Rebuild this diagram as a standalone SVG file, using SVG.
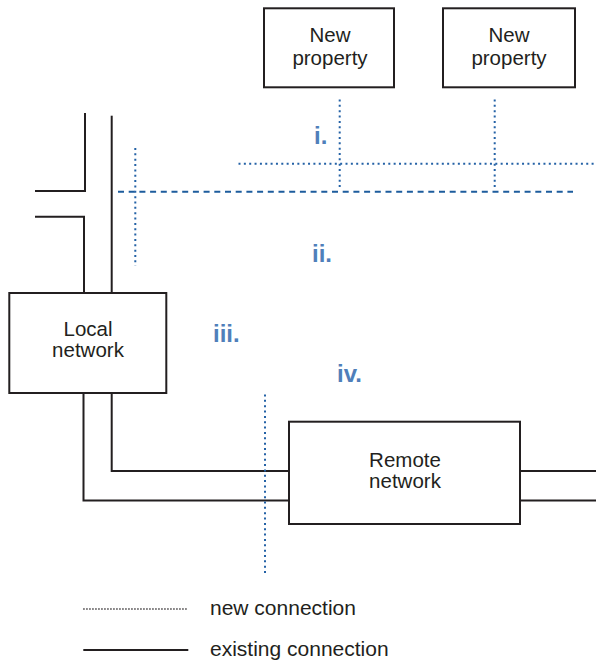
<svg xmlns="http://www.w3.org/2000/svg" width="596" height="661" viewBox="0 0 596 661">
  <style>
    .box { fill: #ffffff; stroke: #231f20; stroke-width: 2; }
    .wire { fill: none; stroke: #231f20; stroke-width: 2; }
    .dot { fill: none; stroke: #2462a6; stroke-width: 2; stroke-dasharray: 2 3.35; }
    .dash { fill: none; stroke: #1d5c9d; stroke-width: 2; stroke-dasharray: 6 4.7; }
    .lbl { font-family: "Liberation Sans", Arial, sans-serif; font-size: 20.5px; fill: #231f20; text-anchor: middle; }
    .num { font-family: "Liberation Sans", Arial, sans-serif; font-size: 24px; font-weight: bold; fill: #4f7fba; }
    .key { font-family: "Liberation Sans", Arial, sans-serif; font-size: 21px; fill: #231f20; }
  </style>
  <rect width="596" height="661" fill="#ffffff"/>

  <!-- existing and new connections -->
  <g id="connectors">
    <!-- existing lines above the local network -->
    <polyline class="wire" points="85,113 85,191 35,191"/>
    <polyline class="wire" points="35,216.7 84,216.7 84,293"/>
    <line class="wire" x1="111.7" y1="115.7" x2="111.7" y2="293"/>
    <!-- existing lines from local to remote network -->
    <polyline class="wire" points="111.7,392 111.7,471 289,471"/>
    <polyline class="wire" points="83.5,392 83.5,500.5 289,500.5"/>
    <line class="wire" x1="520" y1="471" x2="596" y2="471"/>
    <line class="wire" x1="520" y1="500.5" x2="596" y2="500.5"/>
    <!-- new connection routes -->
    <line class="dot" x1="135.3" y1="148" x2="135.3" y2="266"/>
    <line class="dash" x1="118" y1="191.7" x2="573" y2="191.7"/>
    <line class="dot" x1="238.5" y1="163.7" x2="596" y2="163.7"/>
    <line class="dot" x1="339.7" y1="99.5" x2="339.7" y2="190"/>
    <line class="dot" x1="494.7" y1="99.5" x2="494.7" y2="190"/>
    <line class="dot" x1="265" y1="394.5" x2="265" y2="573"/>
  </g>

  <g id="new-property-1">
    <rect class="box" x="264" y="8.3" width="130" height="79"/>
    <text class="lbl" x="330" y="42">New</text>
    <text class="lbl" x="330" y="65">property</text>
  </g>

  <g id="new-property-2">
    <rect class="box" x="443" y="8.3" width="132" height="79"/>
    <text class="lbl" x="509" y="42">New</text>
    <text class="lbl" x="509" y="65">property</text>
  </g>

  <g id="local-network">
    <rect class="box" x="9.3" y="293" width="157" height="100"/>
    <text class="lbl" x="88" y="335.5">Local</text>
    <text class="lbl" x="88" y="356.5">network</text>
  </g>

  <g id="remote-network">
    <rect class="box" x="289" y="421.7" width="231" height="102.3"/>
    <text class="lbl" x="405" y="466.5">Remote</text>
    <text class="lbl" x="405" y="487.5">network</text>
  </g>

  <!-- route labels -->
  <g id="route-labels">
    <text class="num" x="314" y="144.3">i.</text>
    <text class="num" x="312" y="261.5">ii.</text>
    <text class="num" x="213" y="342">iii.</text>
    <text class="num" x="337" y="381.7">iv.</text>
  </g>

  <g id="legend">
    <line x1="83.3" y1="609" x2="188.3" y2="609" stroke="#231f20" stroke-width="1.3" stroke-dasharray="1.3 1.7"/>
    <text class="key" x="210" y="615">new connection</text>
    <line x1="83.3" y1="650" x2="188.3" y2="650" stroke="#231f20" stroke-width="2"/>
    <text class="key" x="210" y="656">existing connection</text>
  </g>
</svg>
